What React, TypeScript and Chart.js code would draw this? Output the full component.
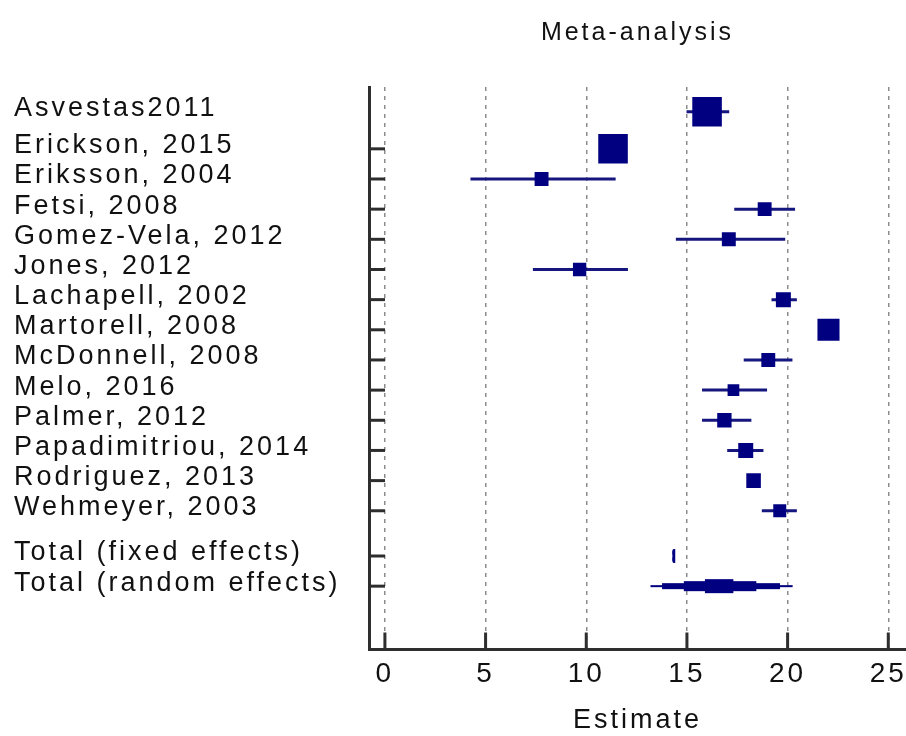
import React, { useEffect, useRef } from 'react';
import { Chart, registerables } from 'chart.js';

Chart.register(...registerables);

// ---------- data ----------
const studyLabels = [
  'Asvestas2011',
  'Erickson, 2015',
  'Eriksson, 2004',
  'Fetsi, 2008',
  'Gomez-Vela, 2012',
  'Jones, 2012',
  'Lachapell, 2002',
  'Martorell, 2008',
  'McDonnell, 2008',
  'Melo, 2016',
  'Palmer, 2012',
  'Papadimitriou, 2014',
  'Rodriguez, 2013',
  'Wehmeyer, 2003',
  'Total (fixed effects)',
  'Total (random effects)',
];

// row position of every label on the (reversed) y axis, in row units
const rowPos = [0.77, 2, 3, 4, 5, 6, 7, 8, 9, 10, 11, 12, 13, 14, 15.5, 16.5];

const estimates = [16.0, 11.33, 7.78, 18.86, 17.08, 9.67, 19.79, 22.03, 19.04, 17.31, 16.86, 17.92, 18.31, 19.61];
const lowerCI = [14.98, 10.9, 4.25, 17.35, 14.45, 7.35, 19.2, 21.7, 17.82, 15.75, 15.75, 17.0, 18.05, 18.72];
const upperCI = [17.1, 11.8, 11.46, 20.37, 19.88, 12.07, 20.46, 22.35, 20.24, 18.98, 18.2, 18.8, 18.55, 20.46];
const weights = [14, 14, 3.1, 3.1, 3.1, 2.85, 3.6, 7.8, 3.1, 2.2, 3.3, 3.6, 3.4, 2.7];

const pooledEstimates = [14.35, 16.57];
const pooledLower = [14.28, 13.19];
const pooledUpper = [14.42, 20.25];

const xTicks = [0, 5, 10, 15, 20, 25];

const chartTitle = 'Meta-analysis';
const xTitle = 'Estimate';

// ---------- component ----------
export default function App() {
  const ref = useRef<HTMLCanvasElement | null>(null);

  useEffect(() => {
    const canvas = ref.current;
    if (!canvas) return;

    const family = "'Liberation Sans', Arial, sans-serif";
    const navy = '#000080';
    const lineNavy = '#16167f';
    const axisColor = '#2e2e2e';
    const textColor = '#111111';
    const spacing = '3px';

    const squareData = estimates.map((e, i) => ({ x: e, y: rowPos[i] }));
    const radii = weights.map((w) => (7.9 * Math.sqrt(w)) / Math.SQRT2);

    const ciSets = estimates.map((_, i) => ({
      type: 'line' as const,
      data: [
        { x: lowerCI[i], y: rowPos[i] },
        { x: upperCI[i], y: rowPos[i] },
      ],
      borderColor: lineNavy,
      borderWidth: 3,
      pointRadius: 0,
      pointHoverRadius: 0,
      fill: false,
      tension: 0,
      showLine: true,
    }));

    const spacingPlugin = {
      id: 'letterSpacing',
      beforeUpdate(chart: any) {
        chart.ctx.letterSpacing = spacing;
      },
      beforeDraw(chart: any) {
        chart.ctx.letterSpacing = spacing;
      },
    };

    // stepped diamond: half-heights and the share of each half-width they cover
    const stepHalfHeights = [1, 3, 5, 7];
    const stepShares = [1, 0.83, 0.51, 0.2];

    const overlay = {
      id: 'forestOverlay',
      beforeDatasetsDraw(chart: any) {
        const { ctx, chartArea } = chart;
        const xs = chart.scales.x;
        const ys = chart.scales.y;
        ctx.save();
        ctx.strokeStyle = axisColor;
        ctx.lineWidth = 3;
        xTicks.forEach((v) => {
          const px = xs.getPixelForValue(v);
          ctx.beginPath();
          ctx.moveTo(px, chartArea.bottom);
          ctx.lineTo(px, chartArea.bottom - 17);
          ctx.stroke();
        });
        rowPos.slice(1).forEach((v) => {
          const py = ys.getPixelForValue(v);
          ctx.beginPath();
          ctx.moveTo(chartArea.left, py);
          ctx.lineTo(chartArea.left + 16, py);
          ctx.stroke();
        });
        ctx.restore();
      },
      afterDatasetsDraw(chart: any) {
        const { ctx } = chart;
        const xs = chart.scales.x;
        const ys = chart.scales.y;
        ctx.save();
        ctx.fillStyle = navy;
        pooledEstimates.forEach((est, k) => {
          const row = rowPos[estimates.length + k];
          const py = ys.getPixelForValue(row);
          const lo = xs.getPixelForValue(pooledLower[k]);
          const hi = xs.getPixelForValue(pooledUpper[k]);
          const mid = xs.getPixelForValue(est);
          if (hi - lo < 8) {
            const h = 7;
            ctx.beginPath();
            ctx.moveTo(lo, py);
            ctx.quadraticCurveTo(lo - 1, py - h, mid, py - h);
            ctx.lineTo(hi, py - h);
            ctx.lineTo(hi, py + h);
            ctx.lineTo(mid, py + h);
            ctx.quadraticCurveTo(lo - 1, py + h, lo, py);
            ctx.closePath();
            ctx.fill();
            return;
          }
          stepHalfHeights.forEach((hh, j) => {
            const l = mid - (mid - lo) * stepShares[j];
            const r = mid + (hi - mid) * stepShares[j];
            ctx.fillRect(l, py - hh, r - l, hh * 2);
          });
        });
        ctx.restore();
      },
    };

    const chart = new Chart(canvas, {
      type: 'scatter',
      data: {
        datasets: [
          {
            type: 'scatter',
            data: squareData,
            pointStyle: 'rect',
            pointRadius: radii,
            pointHoverRadius: radii,
            pointBackgroundColor: navy,
            pointBorderWidth: 0,
            pointHoverBorderWidth: 0,
          } as any,
          ...(ciSets as any[]),
        ],
      },
      options: {
        responsive: false,
        animation: false,
        events: [],
        layout: {
          autoPadding: false,
          padding: { left: 14, right: 0, top: 0, bottom: 0 },
        } as any,
        plugins: {
          legend: { display: false },
          tooltip: { enabled: false },
          title: {
            display: true,
            fullSize: false,
            text: chartTitle,
            color: textColor,
            font: { family, size: 25, weight: 'normal', lineHeight: 1 },
            padding: { top: 21, bottom: 41 },
          },
        },
        scales: {
          x: {
            type: 'linear',
            min: -0.79,
            max: 25.88,
            afterBuildTicks: (s: any) => {
              s.ticks = xTicks.map((v) => ({ value: v }));
            },
            afterFit: (s: any) => {
              s.height = 86.5;
              s.paddingLeft = 0;
              s.paddingRight = 0;
              s.paddingTop = 0;
              s.paddingBottom = 0;
            },
            ticks: {
              color: textColor,
              font: { family, size: 28, lineHeight: 1 },
              padding: 11,
              autoSkip: false,
              maxRotation: 0,
              minRotation: 0,
            },
            grid: {
              color: '#8c8c8c',
              lineWidth: 1.5,
              drawTicks: false,
            },
            border: { display: true, color: axisColor, width: 3, dash: [4, 5] },
            title: {
              display: true,
              text: xTitle,
              color: textColor,
              font: { family, size: 27, lineHeight: 1 },
              padding: { top: 0, bottom: 1.5 },
            },
          },
          y: {
            type: 'linear',
            reverse: true,
            min: -0.05,
            max: 18.6,
            afterBuildTicks: (s: any) => {
              s.ticks = rowPos.map((v) => ({ value: v }));
            },
            afterFit: (s: any) => {
              s.width = 355;
              s.paddingLeft = 0;
              s.paddingRight = 0;
              s.paddingTop = 0;
              s.paddingBottom = 0;
            },
            ticks: {
              color: textColor,
              font: { family, size: 27, lineHeight: 1 },
              crossAlign: 'far',
              autoSkip: false,
              padding: 0,
              labelOffset: -3,
              callback: (value: any) => {
                const idx = rowPos.indexOf(Number(value));
                return idx >= 0 ? studyLabels[idx] : '';
              },
            },
            grid: { display: false, drawTicks: false },
            border: { display: true, color: axisColor, width: 3 },
          },
        },
      } as any,
      plugins: [spacingPlugin, overlay],
    });

    return () => chart.destroy();
  }, []);

  return (
    <div style={{ position: 'fixed', left: 0, top: 0, width: 906, height: 736, background: '#ffffff' }}>
      <canvas ref={ref} width={906} height={736} style={{ display: 'block', width: 906, height: 736 }} />
    </div>
  );
}
